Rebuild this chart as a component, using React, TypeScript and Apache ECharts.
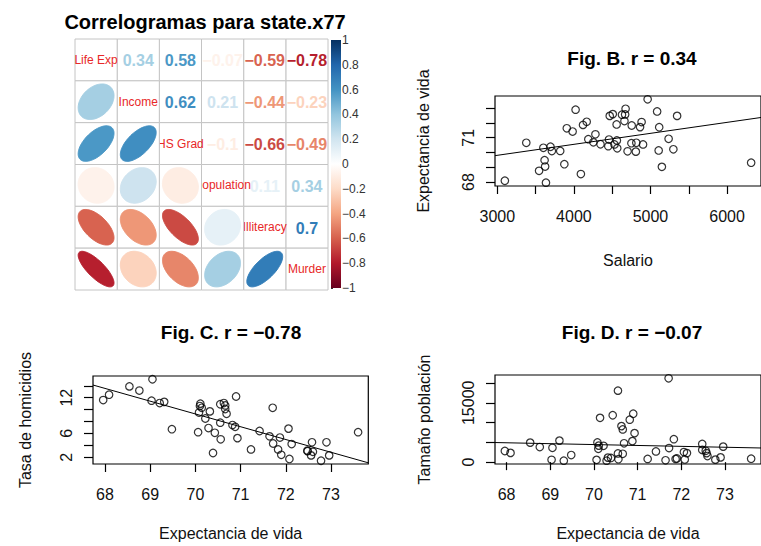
import React, { useEffect, useRef } from "react";
import * as echarts from "echarts";

// ---------- Data ----------
const varNames = ["Life Exp", "Income", "HS Grad", "Population", "Illiteracy", "Murder"];
const corrLifeExp = [1, 0.34, 0.58, -0.07, -0.59, -0.78];
const corrIncome = [0.34, 1, 0.62, 0.21, -0.44, -0.23];
const corrHSGrad = [0.58, 0.62, 1, -0.1, -0.66, -0.49];
const corrPopulation = [-0.07, 0.21, -0.1, 1, 0.11, 0.34];
const corrIlliteracy = [-0.59, -0.44, -0.66, 0.11, 1, 0.7];
const corrMurder = [-0.78, -0.23, -0.49, 0.34, 0.7, 1];
const corrRows = [corrLifeExp, corrIncome, corrHSGrad, corrPopulation, corrIlliteracy, corrMurder];

const lifeExp = [69.05, 69.31, 70.55, 70.66, 71.71, 72.06, 72.48, 70.06, 70.66, 68.54, 73.6, 71.87, 70.14, 70.88, 72.56, 72.58, 70.1, 68.76, 70.39, 70.22, 71.83, 70.63, 72.96, 68.09, 70.69, 70.56, 72.6, 69.03, 71.23, 70.93, 70.32, 70.55, 69.21, 72.78, 70.82, 71.42, 72.13, 70.43, 71.9, 67.96, 72.08, 70.11, 70.9, 72.9, 71.64, 70.08, 71.72, 69.48, 72.48, 70.29];
const income = [3624, 6315, 4530, 3378, 5114, 4884, 5348, 4809, 4815, 4091, 4963, 4119, 5107, 4458, 4628, 4669, 3712, 3545, 3694, 5299, 4755, 4751, 4675, 3098, 4254, 4347, 4508, 5149, 4281, 5237, 3601, 4903, 3875, 5087, 4561, 3983, 4660, 4449, 4558, 3635, 4167, 3821, 4188, 4022, 3907, 4701, 4864, 3617, 4468, 4566];
const murder = [15.1, 11.3, 7.8, 10.1, 10.3, 6.8, 3.1, 6.2, 10.7, 13.9, 6.2, 5.3, 10.3, 7.1, 2.3, 4.5, 10.6, 13.2, 2.7, 8.5, 3.3, 11.1, 2.3, 12.5, 9.3, 5.0, 2.9, 11.5, 3.3, 5.2, 9.7, 10.9, 11.1, 1.4, 7.4, 6.4, 4.2, 6.1, 2.4, 11.6, 1.7, 11.0, 12.2, 4.5, 5.5, 9.5, 4.3, 6.7, 3.0, 6.9];
const population = [3615, 365, 2212, 2110, 21198, 2541, 3100, 579, 8277, 4931, 868, 813, 11197, 5313, 2861, 2280, 3387, 3806, 1058, 4122, 5814, 9111, 3921, 2341, 4767, 746, 1544, 590, 812, 7333, 1144, 18076, 5441, 637, 10735, 2715, 2284, 11860, 931, 2816, 681, 4173, 12237, 1203, 472, 4981, 3559, 1799, 4589, 376];

const incomeTicks = [3000, 3500, 4000, 4500, 5000, 5500, 6000];
const incomeLabels = [3000, 4000, 5000, 6000];
const lifeTicks = [68, 69, 70, 71, 72, 73];
const lifeLabelsB = [68, 71];
const lifeLabelsX = [68, 69, 70, 71, 72, 73];
const murderTicks = [2, 4, 6, 8, 10, 12, 14];
const murderLabels = [2, 6, 12];
const popTicks = [0, 5000, 10000, 15000, 20000];
const popLabels = [0, 15000];

const titleMain = "Correlogramas para state.x77";
const titleB = "Fig. B. r = 0.34";
const titleC = "Fig. C. r = \u22120.78";
const titleD = "Fig. D. r = \u22120.07";

// ---------- helpers ----------
const FONT = '"Liberation Sans", Arial, Helvetica, sans-serif';
const RDBU = ["#67001F", "#B2182B", "#D6604D", "#F4A582", "#FDDBC7", "#FFFFFF", "#D1E5F0", "#92C5DE", "#4393C3", "#2166AC", "#053061"];

function hex2rgb(h: string) {
  return [parseInt(h.slice(1, 3), 16), parseInt(h.slice(3, 5), 16), parseInt(h.slice(5, 7), 16)];
}
function corrColor(v: number) {
  const t = ((Math.max(-1, Math.min(1, v)) + 1) / 2) * (RDBU.length - 1);
  const i = Math.min(RDBU.length - 2, Math.floor(t));
  const f = t - i;
  const a = hex2rgb(RDBU[i]);
  const b = hex2rgb(RDBU[i + 1]);
  const c = a.map((x, k) => Math.round(x + (b[k] - x) * f));
  return `rgb(${c[0]},${c[1]},${c[2]})`;
}
function fmtNum(v: number) {
  const r = Math.round(v * 100) / 100;
  const s = String(Math.abs(r));
  return r < 0 ? "\u2212" + s : s;
}
function rng(a: number[]) {
  const mn = Math.min(...a);
  const mx = Math.max(...a);
  const d = (mx - mn) * 0.04;
  return [mn - d, mx + d];
}
function fit(x: number[], y: number[]) {
  const n = x.length;
  const mx = x.reduce((s, v) => s + v, 0) / n;
  const my = y.reduce((s, v) => s + v, 0) / n;
  let sxy = 0, sxx = 0;
  for (let i = 0; i < n; i++) {
    sxy += (x[i] - mx) * (y[i] - my);
    sxx += (x[i] - mx) * (x[i] - mx);
  }
  const b = sxy / sxx;
  return { a: my - b * mx, b };
}
function zip(x: number[], y: number[]) {
  return x.map((v, i) => [v, y[i]]);
}
function lineData(x: number[], y: number[], lim: number[]) {
  const f = fit(x, y);
  return [[lim[0], f.a + f.b * lim[0]], [lim[1], f.a + f.b * lim[1]]];
}

const incomeR = rng(income);
const lifeR = rng(lifeExp);
const murderR = rng(murder);
const popR = rng(population);

export default function App() {
  const ref = useRef<HTMLDivElement>(null);
  useEffect(() => {
    if (!ref.current) return;
    const chart = echarts.init(ref.current, undefined, { renderer: "svg" });

    const corrData: number[][] = [];
    for (let r = 0; r < 6; r++) {
      for (let c = 5; c >= 0; c--) {
        corrData.push([c + 1, r + 1, corrRows[r][c]]);
      }
    }

    const axisText = { color: "#111", fontSize: 16, fontFamily: FONT };
    const boxGrid = { show: true, borderColor: "#000", borderWidth: 1.2, backgroundColor: "transparent" };
    const plain = (v: number) => String(v);

    const makeX = (gi: number, lim: number[], ticks: number[], labels: number[], name: string, gap: number) => ({
      type: "value", gridIndex: gi, min: lim[0], max: lim[1],
      axisLine: { show: false }, splitLine: { show: false },
      axisTick: { show: true, length: 8, customValues: ticks, lineStyle: { color: "#000", width: 1.2 } },
      axisLabel: { ...axisText, customValues: labels, margin: 22, formatter: plain },
      name, nameLocation: "middle", nameGap: gap, nameTextStyle: axisText,
    });
    const makeY = (gi: number, lim: number[], ticks: number[], labels: number[], name: string, gap: number) => ({
      type: "value", gridIndex: gi, min: lim[0], max: lim[1],
      axisLine: { show: false }, splitLine: { show: false },
      axisTick: { show: true, length: 9, customValues: ticks, lineStyle: { color: "#000", width: 1.2 } },
      axisLabel: { ...axisText, customValues: labels, margin: 19, rotate: 90, formatter: plain },
      name, nameLocation: "middle", nameGap: gap, nameTextStyle: axisText,
    });

    const scatterStyle = {
      type: "scatter", symbol: "circle", symbolSize: 7.5,
      itemStyle: { color: "rgba(0,0,0,0)", borderColor: "#000", borderWidth: 1.2 },
      silent: true,
    };
    const lineStyle = {
      type: "line", showSymbol: false, symbol: "none", clip: true, silent: true,
      lineStyle: { color: "#000", width: 1 },
    };

    const gradStops = RDBU.slice().reverse().map((c, i) => ({ offset: i / (RDBU.length - 1), color: c }));

    const title = (text: string, x: number, y: number, size: number) => ({
      type: "text", x, y, silent: true,
      style: { text, fill: "#000", font: `bold ${size}px ${FONT}`, textAlign: "center", textVerticalAlign: "middle" },
    });

    const option: any = {
      animation: false,
      backgroundColor: "#fff",
      textStyle: { fontFamily: FONT },
      grid: [
        { left: 75, top: 39, width: 253, height: 251, show: false },
        { left: 331, top: 40, width: 10, height: 248, show: false },
        { left: 495, top: 96, width: 274.5, height: 90, ...boxGrid },
        { left: 93, top: 376, width: 275.3, height: 88, ...boxGrid },
        { left: 495, top: 375, width: 275.3, height: 89, ...boxGrid },
      ],
      xAxis: [
        { type: "value", gridIndex: 0, min: 0.5, max: 6.5, show: false },
        { type: "value", gridIndex: 1, min: 0, max: 1, show: false },
        makeX(2, incomeR, incomeTicks, incomeLabels, "Salario", 66),
        makeX(3, lifeR, lifeTicks, lifeLabelsX, "Expectancia de vida", 61),
        makeX(4, lifeR, lifeTicks, lifeLabelsX, "Expectancia de vida", 61),
      ],
      yAxis: [
        { type: "value", gridIndex: 0, min: 0.5, max: 6.5, inverse: true, show: false },
        {
          type: "value", gridIndex: 1, min: -1, max: 1, interval: 0.2, position: "right",
          axisLine: { show: false }, splitLine: { show: false },
          axisTick: { show: true, length: 2, lineStyle: { color: "#333" } },
          axisLabel: {
            color: "#333", fontSize: 12, fontFamily: FONT, margin: 1,
            formatter: (v: number) => {
              const r = Math.round(v * 10) / 10;
              return r < 0 ? "\u2212" + Math.abs(r) : String(r);
            },
          },
        },
        makeY(2, lifeR, lifeTicks, lifeLabelsB, "Expectancia de vida", 64),
        makeY(3, murderR, murderTicks, murderLabels, "Tasa de homicidios", 60),
        makeY(4, popR, popTicks, popLabels, "Tamaño población", 63),
      ],
      series: [
        {
          type: "custom", xAxisIndex: 0, yAxisIndex: 0, silent: true,
          data: corrData,
          renderItem: (params: any, api: any) => {
            const c = api.value(0), r = api.value(1), v = api.value(2);
            const p0 = api.coord([c - 0.5, r - 0.5]);
            const p1 = api.coord([c + 0.5, r + 0.5]);
            const x0 = Math.min(p0[0], p1[0]), y0 = Math.min(p0[1], p1[1]);
            const w = Math.abs(p1[0] - p0[0]), h = Math.abs(p1[1] - p0[1]);
            const cx = x0 + w / 2, cy = y0 + h / 2;
            const children: any[] = [
              { type: "rect", shape: { x: x0, y: y0, width: w, height: h }, style: { fill: "#fff", stroke: "#c4c4c4", lineWidth: 1 } },
            ];
            const col = corrColor(v);
            if (r > c) {
              const pts: number[][] = [];
              const ac = Math.acos(v) / 2;
              for (let k = 0; k < 99; k++) {
                const t = (k / 98) * 2 * Math.PI;
                const ex = (0.85 * Math.cos(t + ac)) / 2;
                const ey = (0.85 * Math.cos(t - ac)) / 2;
                pts.push(api.coord([c + ex, r - ey]));
              }
              children.push({ type: "polygon", shape: { points: pts }, style: { fill: col, stroke: col, lineWidth: 1 } });
            } else if (r < c) {
              children.push({
                type: "text", x: cx, y: cy + 1,
                style: { text: fmtNum(v), fill: col, font: `bold 16px ${FONT}`, textAlign: "center", textVerticalAlign: "middle" },
              });
            } else {
              children.push({
                type: "text", x: cx, y: cy,
                style: { text: varNames[c - 1], fill: "#e82828", font: `12px ${FONT}`, textAlign: "center", textVerticalAlign: "middle" },
              });
            }
            return { type: "group", children };
          },
        },
        {
          type: "custom", xAxisIndex: 1, yAxisIndex: 1, silent: true,
          data: [[0]],
          renderItem: (params: any, api: any) => {
            const a = api.coord([0, 1]);
            const b = api.coord([1, -1]);
            return {
              type: "rect",
              shape: { x: a[0], y: a[1], width: b[0] - a[0], height: b[1] - a[1] },
              style: { fill: new echarts.graphic.LinearGradient(0, 0, 0, 1, gradStops) },
            };
          },
        },
        { ...scatterStyle, xAxisIndex: 2, yAxisIndex: 2, data: zip(income, lifeExp) },
        { ...lineStyle, xAxisIndex: 2, yAxisIndex: 2, data: lineData(income, lifeExp, incomeR) },
        { ...scatterStyle, xAxisIndex: 3, yAxisIndex: 3, data: zip(lifeExp, murder) },
        { ...lineStyle, xAxisIndex: 3, yAxisIndex: 3, data: lineData(lifeExp, murder, lifeR) },
        { ...scatterStyle, xAxisIndex: 4, yAxisIndex: 4, data: zip(lifeExp, population) },
        { ...lineStyle, xAxisIndex: 4, yAxisIndex: 4, data: lineData(lifeExp, population, lifeR) },
      ],
      graphic: [
        title(titleMain, 205, 22, 20),
        title(titleB, 632, 58, 19),
        title(titleC, 231, 332, 19),
        title(titleD, 632, 332, 19),
      ],
    };

    chart.setOption(option);
    return () => chart.dispose();
  }, []);

  return <div ref={ref} style={{ position: "absolute", left: 0, top: 0, width: 761, height: 546, background: "#fff" }} />;
}
